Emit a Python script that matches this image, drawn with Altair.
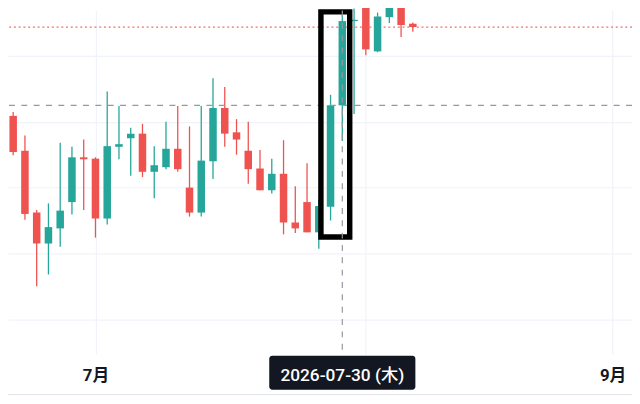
import altair as alt
import pandas as pd
import numpy as np

# ---- data ----
dates = [
    "2026-06-22", "2026-06-23", "2026-06-24", "2026-06-25", "2026-06-26", "2026-06-29", "2026-06-30",
    "2026-07-01", "2026-07-02", "2026-07-03", "2026-07-06", "2026-07-07", "2026-07-08", "2026-07-09",
    "2026-07-10", "2026-07-13", "2026-07-14", "2026-07-15", "2026-07-16", "2026-07-17", "2026-07-20",
    "2026-07-21", "2026-07-22", "2026-07-23", "2026-07-24", "2026-07-27", "2026-07-28", "2026-07-29",
    "2026-07-30", "2026-07-31", "2026-08-03", "2026-08-04", "2026-08-05", "2026-08-06", "2026-08-07",
]
open_ = [2709, 2656, 2562, 2515, 2538, 2578, 2646, 2644, 2553, 2662, 2675, 2682, 2624, 2631, 2659, 2600,
         2562, 2640, 2721, 2684, 2656, 2629, 2596, 2621, 2547, 2578, 2532, 2571, 2725, 2853, 2875, 2807,
         2859, 2874, 2849]
high = [2715, 2679, 2566, 2576, 2668, 2662, 2673, 2646, 2746, 2724, 2691, 2697, 2663, 2700, 2724, 2693,
        2724, 2766, 2753, 2704, 2700, 2657, 2644, 2672, 2602, 2637, 2582, 2741, 2865, 2872, 2880, 2866,
        2882, 2880, 2851]
low = [2649, 2551, 2450, 2468, 2510, 2559, 2566, 2524, 2544, 2643, 2618, 2616, 2584, 2628, 2624, 2556,
       2556, 2613, 2662, 2650, 2606, 2596, 2591, 2529, 2531, 2532, 2507, 2550, 2671, 2712, 2801, 2806,
       2850, 2829, 2837]
close = [2654, 2560, 2515, 2540, 2565, 2646, 2643, 2553, 2663, 2666, 2682, 2624, 2634, 2659, 2628, 2562,
         2641, 2721, 2682, 2673, 2628, 2596, 2621, 2547, 2538, 2532, 2572, 2725, 2853, 2855, 2810, 2860,
         2875, 2847, 2844]

month_tick_idx = [7, 30, 51]          # first trading day of Jul, Aug, Sep (bar index)
month_labels = ["7月", "", "9月"]      # the Aug label sits under the crosshair date label
weekday_ja = ["月", "火", "水", "木", "金", "土", "日"]
price_grid = [2400, 2500, 2600, 2700, 2800]
x_domain = [-0.0204, 52.2246]
y_domain = [2347.0, 2869.1]

cross_idx = 28
cross_price = 2725
box_idx = [26.18, 28.63]
box_price = [2525, 2867]

GREEN = "#26a69a"
RED = "#ef5350"
FONT = "Roboto, 'Noto Sans CJK JP', sans-serif"

# ---- tables ----
df = pd.DataFrame({"i": range(len(dates)), "date": dates, "o": open_, "h": high, "l": low, "c": close})
df["dir"] = np.where(df["c"] >= df["o"], "up", "down")

d = pd.Timestamp(dates[cross_idx])
cross_label = f"{dates[cross_idx]} ({weekday_ja[d.weekday()]})"

label_expr = " : ".join(
    f"datum.value == {v} ? '{t}'" for v, t in zip(month_tick_idx, month_labels)
) + " : ''"

x_scale = alt.Scale(domain=x_domain, nice=False, zero=False)
y_scale = alt.Scale(domain=y_domain, nice=False, zero=False)
x_axis = alt.Axis(values=month_tick_idx, labelExpr=label_expr, grid=True, gridColor="#f0f3fa",
                  gridWidth=1.2, domain=False, ticks=False, labelFontSize=17, labelFontWeight="bold",
                  labelColor="#131722", labelFont=FONT, labelBaseline="middle", labelPadding=21.5,
                  labelFlush=False, labelOverlap=False, title=None)
y_axis = alt.Axis(values=price_grid, grid=True, gridColor="#f0f3fa", gridWidth=1.2, labels=False,
                  ticks=False, domain=False, title=None)

X = lambda f: alt.X(f, scale=x_scale, axis=x_axis)
Y = lambda f: alt.Y(f, scale=y_scale, axis=y_axis)
col = alt.Color("dir:N", scale=alt.Scale(domain=["up", "down"], range=[GREEN, RED]), legend=None)

base = alt.Chart(df)
wicks = base.mark_rule(strokeWidth=1.3).encode(x=X("i:Q"), y=Y("l:Q"), y2="h:Q", color=col)
bodies = base.mark_bar(size=7.6, orient="vertical").encode(x=X("i:Q"), y=Y("o:Q"), y2="c:Q", color=col)

last_line = alt.Chart(pd.DataFrame({"p": [close[-1]]})).mark_rule(
    color=RED, strokeWidth=1.3, strokeDash=[2, 2.8], opacity=0.85
).encode(y=Y("p:Q"))

h_cross = alt.Chart(pd.DataFrame({"p": [cross_price]})).mark_rule(
    color="#9598a1", strokeWidth=1.2, strokeDash=[6, 6.5]
).encode(y=Y("p:Q"))

box = alt.Chart(pd.DataFrame({"i": [box_idx[0]], "i2": [box_idx[1]],
                              "p": [box_price[0]], "p2": [box_price[1]]})).mark_rect(
    fillOpacity=0, stroke="black", strokeWidth=5.5
).encode(x=X("i:Q"), x2="i2:Q", y=Y("p:Q"), y2="p2:Q")

tt = pd.DataFrame({"i": [cross_idx], "label": [cross_label]})
v_cross = alt.Chart(tt).mark_rule(color="#9598a1", strokeWidth=1.2, strokeDash=[6, 6.5]).encode(
    x=X("i:Q"), y=alt.value(0), y2=alt.value(349.6))
tt_box = alt.Chart(tt).mark_bar(orient="vertical", size=148, cornerRadius=3, color="#131722").encode(
    x=X("i:Q"), y=alt.value(349.6), y2=alt.value(384))
tt_text = alt.Chart(tt).mark_text(color="white", fontSize=17.5, fontWeight=500, font=FONT,
                                  baseline="middle", align="center").encode(
    x=X("i:Q"), y=alt.value(370.5), text="label:N")

border = alt.Chart(pd.DataFrame({"a": [0]})).mark_rule(color="#e0e3eb", strokeWidth=1).encode(
    x=alt.value(0), x2=alt.value(632), y=alt.value(389))

chart = alt.layer(
    last_line, wicks, bodies, h_cross, box, v_cross, tt_box, tt_text, border
).properties(
    width=632, height=348,
    autosize=alt.AutoSizeParams(type="none"),
    padding={"left": 0, "top": 0, "right": 0, "bottom": 48},
    background="white",
).configure_view(stroke=None)

chart.save("out.html", embed_options={"renderer": "svg", "actions": False})
